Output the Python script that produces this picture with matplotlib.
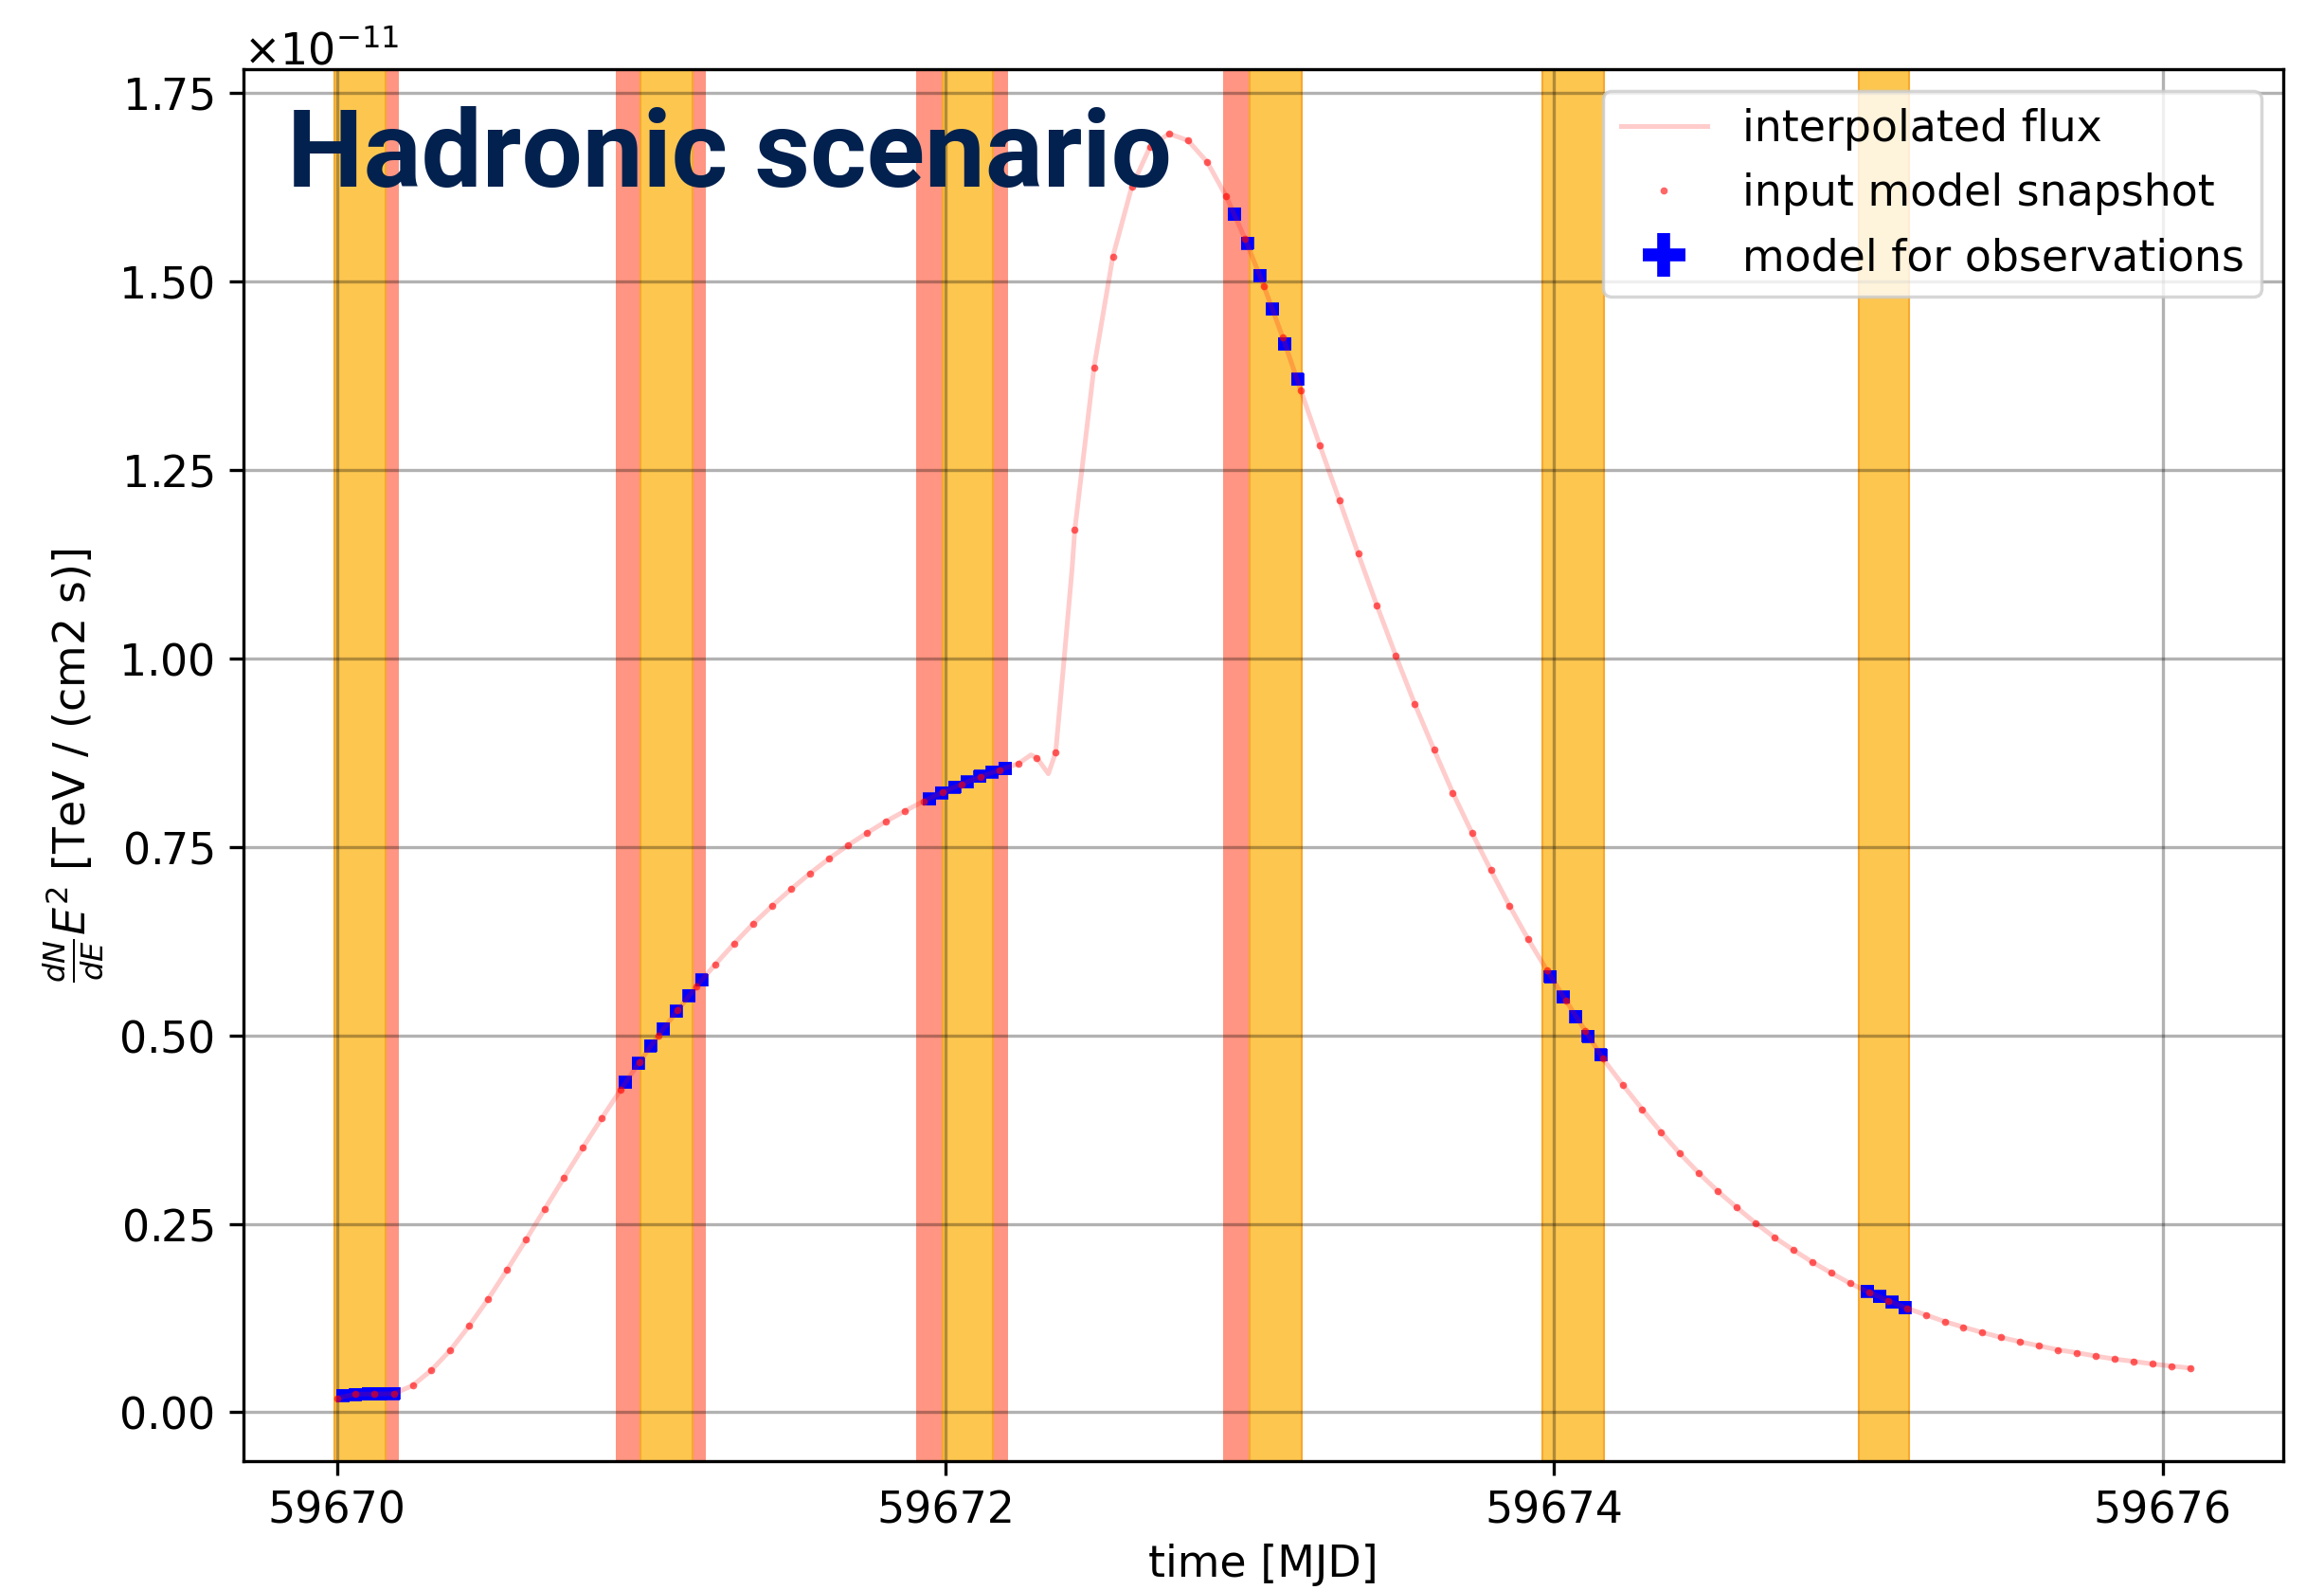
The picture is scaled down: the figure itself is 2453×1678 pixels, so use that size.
import numpy as np
import matplotlib
matplotlib.use("Agg")
import matplotlib.pyplot as plt

MJD0 = 59670.0
SCALE = 1e-11

# input model snapshots (time offset from MJD0 [d], flux in 1e-11 TeV/(cm2 s))
snapshot_offset = [
    0.000, 0.062, 0.124, 0.187, 0.249, 0.311, 0.373, 0.435, 0.498, 0.560,
    0.622, 0.684, 0.746, 0.809, 0.871, 0.933, 0.995, 1.057, 1.120, 1.182,
    1.244, 1.306, 1.368, 1.431, 1.493, 1.555, 1.617, 1.679, 1.741, 1.804,
    1.866, 1.928, 1.990, 2.053, 2.115, 2.177, 2.239, 2.300, 2.362, 2.425,
    2.488, 2.550, 2.612, 2.672, 2.735, 2.797, 2.860, 2.922, 2.984, 3.046,
    3.108, 3.168, 3.230, 3.294, 3.356, 3.418, 3.480, 3.542, 3.605, 3.667,
    3.730, 3.792, 3.853, 3.915, 3.977, 4.039, 4.102, 4.160, 4.225, 4.289,
    4.351, 4.413, 4.475, 4.538, 4.600, 4.662, 4.724, 4.786, 4.848, 4.910,
    4.972, 5.035, 5.097, 5.159, 5.221, 5.283, 5.345, 5.407, 5.469, 5.531,
    5.593, 5.656, 5.718, 5.780, 5.842, 5.904, 5.967, 6.029, 6.091]
snapshot_flux = [
    0.0186, 0.0241, 0.0241, 0.0245, 0.0354, 0.0559, 0.0823, 0.1146, 0.1506, 0.1892,
    0.2290, 0.2700, 0.3107, 0.3513, 0.3903, 0.4280, 0.4648, 0.5000, 0.5332, 0.5650,
    0.5943, 0.6219, 0.6480, 0.6720, 0.6940, 0.7149, 0.7343, 0.7519, 0.7682, 0.7837,
    0.7975, 0.8105, 0.8223, 0.8331, 0.8431, 0.8519, 0.8603, 0.8683, 0.8750, 1.1708,
    1.3861, 1.5332, 1.6254, 1.6786, 1.6962, 1.6870, 1.6585, 1.6132, 1.5571, 1.4942,
    1.4260, 1.3552, 1.2827, 1.2102, 1.1390, 1.0699, 1.0033, 0.9395, 0.8792, 0.8218,
    0.7686, 0.7190, 0.6720, 0.6273, 0.5858, 0.5458, 0.5062, 0.4691, 0.4346, 0.4021,
    0.3717, 0.3434, 0.3174, 0.2931, 0.2716, 0.2509, 0.2319, 0.2152, 0.1993, 0.1848,
    0.1711, 0.1591, 0.1481, 0.1380, 0.1292, 0.1203, 0.1129, 0.1058, 0.0992, 0.0935,
    0.0881, 0.0828, 0.0789, 0.0745, 0.0705, 0.0675, 0.0640, 0.0612, 0.0586]

# extra points (overshoot before the flare)
line_extra_offset = [2.281, 2.338, 2.390, 2.416]
line_extra_flux = [0.872, 0.847, 1.000, 1.119]

# model evaluated for the observations
obs_offset = [
    0.020, 0.062, 0.104, 0.145, 0.187,
    0.948, 0.990, 1.031, 1.073, 1.115, 1.157, 1.199,
    1.947, 1.988, 2.030, 2.071, 2.113, 2.154, 2.196,
    2.950, 2.992, 3.033, 3.074, 3.115, 3.157,
    3.987, 4.030, 4.071, 4.112, 4.153,
    5.029, 5.070, 5.111, 5.153]
obs_flux = [
    0.0224, 0.0235, 0.0242, 0.0246, 0.0249,
    0.4377, 0.4628, 0.4862, 0.5088, 0.5319, 0.5528, 0.5734,
    0.8135, 0.8218, 0.8293, 0.8361, 0.8436, 0.8494, 0.8541,
    1.5894, 1.5508, 1.5081, 1.4633, 1.4172, 1.3703,
    0.5780, 0.5507, 0.5246, 0.4986, 0.4740,
    0.1605, 0.1535, 0.1459, 0.1389]

# time windows (offsets from MJD0)
dark_start = [0.000, 0.916, 1.905, 2.913]
dark_end = [0.204, 1.211, 2.207, 3.000]
obs_start = [-0.007, 0.998, 1.991, 3.000, 3.961, 5.000]
obs_end = [0.161, 1.168, 2.155, 3.171, 4.164, 5.167]

xtick_values = [59670, 59672, 59674, 59676]
ytick_values = [0.00, 0.25, 0.50, 0.75, 1.00, 1.25, 1.50, 1.75]

FS = 33

fig = plt.figure(figsize=(24.53, 16.78), dpi=100)
ax = fig.add_axes([0.1046, 0.0808, 0.8779, 0.8757])

for a, b in zip(dark_start, dark_end):
    ax.axvspan(MJD0 + a, MJD0 + b, facecolor='#FF9582', edgecolor='none', lw=0, zorder=1)
for a, b in zip(obs_start, obs_end):
    ax.axvspan(MJD0 + a, MJD0 + b, facecolor='#FDC64F', edgecolor='#F7A830', lw=1.5, zorder=1.1)

t_snap = MJD0 + np.array(snapshot_offset)
f_snap = np.array(snapshot_flux) * SCALE
t_line = np.concatenate([t_snap, MJD0 + np.array(line_extra_offset)])
f_line = np.concatenate([f_snap, np.array(line_extra_flux) * SCALE])
order = np.argsort(t_line)
t_line, f_line = t_line[order], f_line[order]

err_h = ax.errorbar(MJD0 + np.array(obs_offset), np.array(obs_flux) * SCALE,
                    xerr=0.0207, yerr=0.0084 * SCALE, fmt='none', ecolor='blue',
                    elinewidth=9.8, capsize=0, zorder=2.5, label='model for observations')
line_h, = ax.plot(t_line, f_line, color='red', alpha=0.2, lw=3.6, zorder=3,
                  label='interpolated flux')
dot_h, = ax.plot(t_snap, f_snap, ls='none', marker='o', ms=5.5, mew=0, color='red',
                 alpha=0.6, zorder=4, label='input model snapshot')

ax.set_xlim(59669.692, 59676.396)
ax.set_ylim(-0.0654e-11, 1.7817e-11)
ax.set_xticks(xtick_values)
ax.set_yticks(np.array(ytick_values) * SCALE)
ax.ticklabel_format(axis='x', useOffset=False, style='plain')
ax.ticklabel_format(axis='y', style='sci', scilimits=(0, 0), useMathText=True)
ax.yaxis.get_offset_text().set_fontsize(FS)

ax.set_axisbelow('line')
ax.grid(True, color='k', alpha=0.3, lw=2.4)

ax.tick_params(labelsize=FS, length=11, width=2.4, pad=11)
for sp in ax.spines.values():
    sp.set_linewidth(2.4)

ax.set_xlabel('time [MJD]', fontsize=FS, labelpad=8)
ax.set_ylabel(r'$\frac{dN}{dE}E^2$ [TeV / (cm2 s)]', fontsize=FS, labelpad=10)

leg = ax.legend([line_h, dot_h, err_h],
                ['interpolated flux', 'input model snapshot', 'model for observations'],
                loc='upper right', fontsize=FS, borderaxespad=0.5)
leg.get_frame().set_linewidth(2.5)

fig.text(0.1235, 1 - 197 / 1678, 'Hadronic scenario', fontfamily='Roboto',
         fontweight='bold', fontsize=82, color='#02214F', ha='left', va='baseline')

fig.savefig('out.png', dpi=100)
